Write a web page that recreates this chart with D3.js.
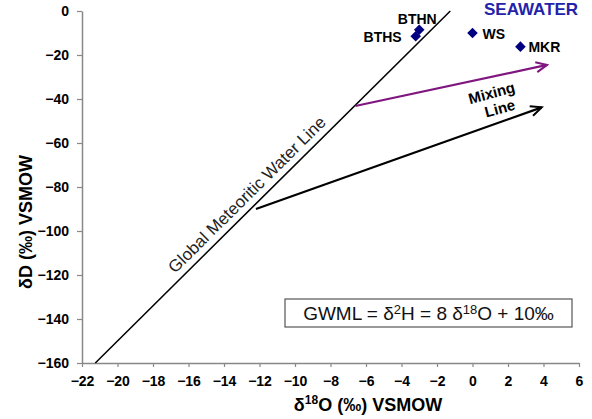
<!DOCTYPE html>
<html>
<head>
<meta charset="utf-8">
<script src="https://cdn.jsdelivr.net/npm/d3@7"></script>
<style>
  body { margin: 0; background: #fff; }
  text { font-family: "Liberation Sans", Arial, sans-serif; }
</style>
</head>
<body>
<svg id="chart" width="592" height="419"></svg>
<script>
// samples
var sampleNames = ["BTHN", "BTHS", "WS", "MKR"];
var sampleO18 = [-3.0, -3.2, 0.0, 2.7];
var sampleD = [-8.5, -11.5, -10.0, -16.2];

// global meteoritic water line: dD = 8 * d18O + 10
var gmwlSlope = 8;
var gmwlIntercept = 10;
var gmwlO18 = [-21.25, -1.25];

// mixing arrows (start, end)
var purpleO18 = [-6.6, 4.2];
var purpleD = [-43.2, -24.5];
var blackO18 = [-12.2, 3.9];
var blackD = [-90.0, -43.8];

var xTickValues = [-22, -20, -18, -16, -14, -12, -10, -8, -6, -4, -2, 0, 2, 4, 6];
var yTickValues = [0, -20, -40, -60, -80, -100, -120, -140, -160];

var svg = d3.select("#chart");

var x = d3.scaleLinear().domain([-22, 6]).range([82, 579]);
var y = d3.scaleLinear().domain([-160, 0]).range([363, 11]);

// axes
var xAxis = d3.axisBottom(x).tickValues(xTickValues).tickSize(4).tickSizeOuter(0).tickPadding(9);
var yAxis = d3.axisLeft(y).tickValues(yTickValues).tickSize(5).tickSizeOuter(0).tickPadding(8);

var gx = svg.append("g").attr("transform", "translate(0,363)").call(xAxis);
var gy = svg.append("g").attr("transform", "translate(82,0)").call(yAxis);

[gx, gy].forEach(function(g) {
  g.select(".domain").attr("stroke", "#888").attr("stroke-width", 1.5);
  g.selectAll(".tick line").attr("stroke", "#888").attr("stroke-width", 1.2);
  g.selectAll(".tick text")
    .attr("fill", "#000")
    .style("font-family", "'Liberation Sans', Arial, sans-serif")
    .style("font-size", "14px")
    .style("font-weight", "bold");
});

// axis titles
var xt = svg.append("text")
  .attr("x", 368).attr("y", 411)
  .attr("text-anchor", "middle")
  .style("font-size", "18px").style("font-weight", "bold");
xt.append("tspan").text("δ");
xt.append("tspan").attr("dy", -7).style("font-size", "12px").text("18");
xt.append("tspan").attr("dy", 7).text("O (‰) VSMOW");

svg.append("text")
  .attr("transform", "translate(32,222) rotate(-90)")
  .attr("text-anchor", "middle")
  .style("font-size", "18px").style("font-weight", "bold")
  .text("δD (‰) VSMOW");

// GMWL
var line = d3.line()
  .x(function(d) { return x(d[0]); })
  .y(function(d) { return y(d[1]); });

var gmwlPts = gmwlO18.map(function(v) { return [v, gmwlSlope * v + gmwlIntercept]; });
svg.append("path")
  .attr("d", line(gmwlPts))
  .attr("fill", "none")
  .attr("stroke", "#000")
  .attr("stroke-width", 1.5);

var angle = Math.atan2(y(gmwlPts[1][1]) - y(gmwlPts[0][1]), x(gmwlPts[1][0]) - x(gmwlPts[0][0])) * 180 / Math.PI;
var lx = x(-12.2), ly = y(gmwlSlope * -12.2 + gmwlIntercept);
svg.append("text")
  .attr("transform", "translate(" + lx + "," + ly + ") rotate(" + angle + ")")
  .attr("y", -7)
  .attr("text-anchor", "middle")
  .attr("fill", "#222")
  .style("font-size", "17px")
  .text("Global Meteoritic Water Line");

// arrow markers
var defs = svg.append("defs");
function arrowHead(id, color) {
  defs.append("marker")
    .attr("id", id)
    .attr("markerUnits", "userSpaceOnUse")
    .attr("viewBox", "0 0 14 14")
    .attr("markerWidth", 14).attr("markerHeight", 14)
    .attr("refX", 12).attr("refY", 7)
    .attr("orient", "auto")
    .append("path")
    .attr("d", "M1,2 L12,7 L1,12")
    .attr("fill", "none")
    .attr("stroke", color)
    .attr("stroke-width", 2);
}
arrowHead("arrPurple", "#80167f");
arrowHead("arrBlack", "#000");

svg.append("path")
  .attr("d", line([[purpleO18[0], purpleD[0]], [purpleO18[1], purpleD[1]]]))
  .attr("stroke", "#80167f").attr("stroke-width", 2.2).attr("fill", "none")
  .attr("marker-end", "url(#arrPurple)");

svg.append("path")
  .attr("d", line([[blackO18[0], blackD[0]], [blackO18[1], blackD[1]]]))
  .attr("stroke", "#000").attr("stroke-width", 2.2).attr("fill", "none")
  .attr("marker-end", "url(#arrBlack)");

var mix = svg.append("text")
  .attr("transform", "translate(493,98) rotate(-15)")
  .attr("text-anchor", "middle")
  .style("font-size", "15px").style("font-weight", "bold");
mix.append("tspan").attr("x", 0).attr("y", 0).text("Mixing");
mix.append("tspan").attr("x", 4).attr("y", 17).text("Line");

// samples
var samples = sampleNames.map(function(n, i) {
  return { name: n, o: sampleO18[i], d: sampleD[i] };
});
var labelPos = {
  BTHN: { dx: -2, dy: -6, anchor: "middle" },
  BTHS: { dx: -14, dy: 5.5, anchor: "end" },
  WS:   { dx: 10, dy: 5.5, anchor: "start" },
  MKR:  { dx: 8, dy: 5, anchor: "start" }
};

svg.selectAll("path.pt").data(samples).enter()
  .append("path")
  .attr("class", "pt")
  .attr("d", d3.symbol().type(d3.symbolSquare).size(56))
  .attr("transform", function(d) { return "translate(" + x(d.o) + "," + y(d.d) + ") rotate(45)"; })
  .attr("fill", "#000080");

svg.selectAll("text.lab").data(samples).enter()
  .append("text")
  .attr("class", "lab")
  .attr("x", function(d) { return x(d.o) + labelPos[d.name].dx; })
  .attr("y", function(d) { return y(d.d) + labelPos[d.name].dy; })
  .attr("text-anchor", function(d) { return labelPos[d.name].anchor; })
  .style("font-size", "14px").style("font-weight", "bold")
  .text(function(d) { return d.name; });

svg.append("text")
  .attr("x", 484).attr("y", 15)
  .attr("fill", "#2222aa")
  .style("font-size", "17px").style("font-weight", "bold")
  .text("SEAWATER");

// equation box
svg.append("rect")
  .attr("x", 285).attr("y", 299).attr("width", 287).attr("height", 28)
  .attr("fill", "#fff").attr("stroke", "#555").attr("stroke-width", 1.2);

var eq = svg.append("text")
  .attr("x", 428.5).attr("y", 320)
  .attr("text-anchor", "middle")
  .attr("fill", "#111")
  .style("font-size", "19px");
eq.append("tspan").text("GWML = δ");
eq.append("tspan").attr("dy", -6).style("font-size", "13px").text("2");
eq.append("tspan").attr("dy", 6).text("H = 8 δ");
eq.append("tspan").attr("dy", -6).style("font-size", "13px").text("18");
eq.append("tspan").attr("dy", 6).text("O + 10‰");
</script>
</body>
</html>
